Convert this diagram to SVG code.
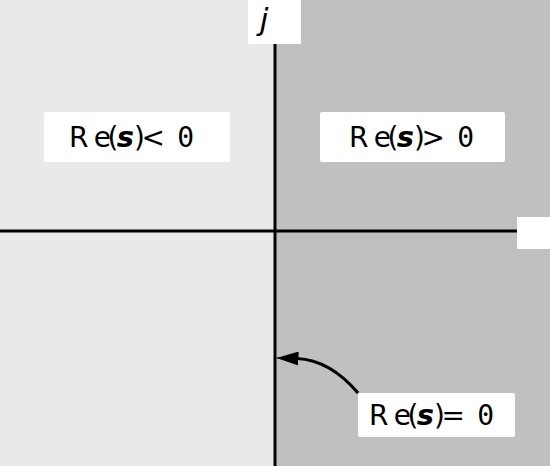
<svg xmlns="http://www.w3.org/2000/svg" width="550" height="466" viewBox="0 0 550 466">
<style>
.box{fill:#ffffff;}
.t{font-family:"DejaVu Sans","Liberation Sans",sans-serif;font-size:28px;fill:#000;}
.n{letter-spacing:-3.5px;}
.s{font-style:italic;font-weight:bold;font-size:29px;}
.z{font-family:"DejaVu Sans Mono","Liberation Mono",monospace;}
.axis{stroke:#000;stroke-width:3;fill:none;}
</style>
<defs>
<marker id="ah" viewBox="0 0 22 14" refX="22" refY="7" markerWidth="22" markerHeight="14" markerUnits="userSpaceOnUse" orient="auto">
<path d="M0,0 L22,7 L0,14 Z" fill="#000"/>
</marker>
</defs>
<g id="background">
<rect x="0" y="0" width="275" height="466" fill="#e9e9e9"/>
<rect x="275" y="0" width="275" height="466" fill="#c0c0c0"/>
</g>
<g id="connectors">
<line class="axis" x1="0" y1="231" x2="517" y2="231"/>
<line class="axis" x1="275" y1="44" x2="275" y2="466"/>
<path class="axis" d="M358,393 Q330,360 297,358.5" />
<path d="M297,358.5 L276.5,358" fill="none" stroke="#000" stroke-width="1" marker-end="url(#ah)"/>
</g>
<g id="j-label">
<rect class="box" x="248" y="0" width="53" height="44"/>
<text x="264" y="29.5" font-family="DejaVu Sans,sans-serif" font-style="italic" font-size="31" text-anchor="middle" fill="#000">j</text>
</g>
<g id="real-axis-end">
<rect class="box" x="517" y="217" width="33" height="32"/>
</g>
<g id="re-neg">
<rect class="box" x="44" y="112" width="186" height="50" rx="2"/>
<text class="t" x="69" y="146.5">R<tspan class="n" dx="5.3">e(</tspan><tspan class="s" dx="1.9">s</tspan><tspan class="n">)&lt;</tspan><tspan class="z" dx="15.8">0</tspan></text>
</g>
<g id="re-pos">
<rect class="box" x="320" y="112" width="185" height="50" rx="2"/>
<text class="t" x="349" y="146.5">R<tspan class="n" dx="5.3">e(</tspan><tspan class="s" dx="1.9">s</tspan><tspan class="n">)&gt;</tspan><tspan class="z" dx="15.8">0</tspan></text>
</g>
<g id="re-zero">
<rect class="box" x="358" y="393" width="157" height="44" rx="2"/>
<text class="t" x="369" y="424.5">R<tspan class="n" dx="5.3">e(</tspan><tspan class="s" dx="1.9">s</tspan><tspan class="n">)=</tspan><tspan class="z" dx="15.8">0</tspan></text>
</g>
</svg>
